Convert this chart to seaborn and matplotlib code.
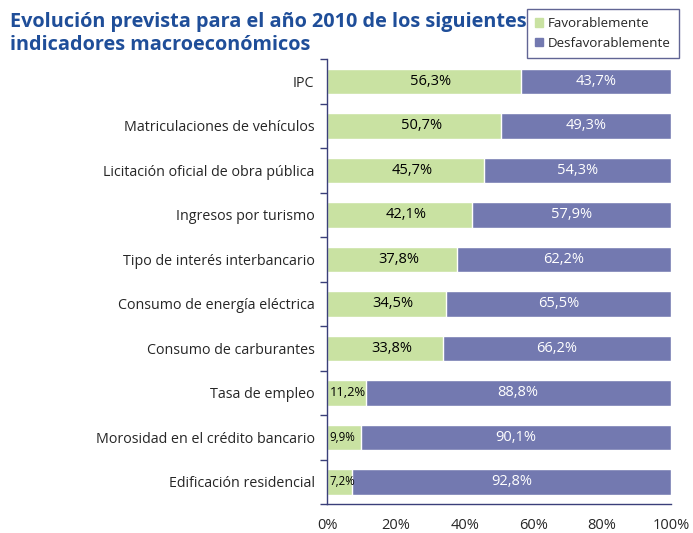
import numpy as np
import pandas as pd
import seaborn as sns
from matplotlib import pyplot as plt
from matplotlib.patches import Patch

# data
indicadores = ["IPC", "Matriculaciones de vehículos", "Licitación oficial de obra pública",
               "Ingresos por turismo", "Tipo de interés interbancario",
               "Consumo de energía eléctrica", "Consumo de carburantes", "Tasa de empleo",
               "Morosidad en el crédito bancario", "Edificación residencial"]
favorable = [56.3, 50.7, 45.7, 42.1, 37.8, 34.5, 33.8, 11.2, 9.9, 7.2]
desfavorable = [43.7, 49.3, 54.3, 57.9, 62.2, 65.5, 66.2, 88.8, 90.1, 92.8]
x_ticks = [0, 20, 40, 60, 80, 100]

verde = "#c9e2a2"
morado = "#7379b0"
azul = "#1f4e99"
eje = "#3a3f7a"

df = pd.DataFrame({"indicador": indicadores, "fav": favorable, "desf": desfavorable})
df["total"] = df["fav"] + df["desf"]

sns.set_style("white")
plt.rcParams['font.family'] = ['Open Sans', 'DejaVu Sans']

fig = plt.figure(figsize=(6.93, 5.33), dpi=100)
ax = fig.add_axes([0.472, 0.054, 0.496, 0.835])

# stacked bars: total first, then favourable on top
sns.barplot(data=df, x="total", y="indicador", color=morado, orient="h",
            width=0.58, saturation=1, ax=ax)
sns.barplot(data=df, x="fav", y="indicador", color=verde, orient="h",
            width=0.58, saturation=1, ax=ax)

# value labels
for i, (f, d) in enumerate(zip(favorable, desfavorable)):
    lab_f = f"{f:.1f}%".replace(".", ",")
    lab_d = f"{d:.1f}%".replace(".", ",")
    if f > 20:
        ax.text(f / 2 + 2, i, lab_f, ha="center", va="center", fontsize=10.5, color="black")
    else:
        ax.text(0.8, i, lab_f, ha="left", va="center", fontsize=9.3 if f > 10 else 8.3,
                color="black")
    ax.text(f + d / 2, i, lab_d, ha="center", va="center", fontsize=10.5, color="white")

ax.set_xlim(0, 100)
ax.set_ylim(9.5, -0.5)
ax.set_xticks(x_ticks)
ax.set_xticklabels([f"{t}%" for t in x_ticks], fontsize=10.5)
ax.set_xlabel("")
ax.set_ylabel("")
ax.tick_params(axis="y", length=0, labelsize=10.3, pad=9)
ax.tick_params(axis="x", length=4, width=1, color=eje, direction="out", pad=6)

# y ticks between categories
ax.set_yticks(np.arange(-0.5, 10, 1), minor=True)
ax.tick_params(axis="y", which="minor", length=5, width=1, color=eje, left=True)

for s in ["top", "right"]:
    ax.spines[s].set_visible(False)
for s in ["left", "bottom"]:
    ax.spines[s].set_color(eje)
    ax.spines[s].set_linewidth(1)

fig.text(0.014, 0.978, "Evolución prevista para el año 2010 de los siguientes\nindicadores macroeconómicos",
         ha="left", va="top", fontsize=14.3, fontweight="bold", color=azul, linespacing=1.2)

handles = [Patch(color=verde, label="Favorablemente"), Patch(color=morado, label="Desfavorablemente")]
leg = fig.legend(handles=handles, loc="upper left", bbox_to_anchor=(0.76, 0.983),
                 fontsize=9.6, frameon=True, fancybox=False, handlelength=0.6, handleheight=0.6,
                 handletextpad=0.4, borderpad=0.6, labelspacing=0.5, borderaxespad=0)
leg.get_frame().set_edgecolor(eje)
leg.get_frame().set_linewidth(1)

fig.savefig("out.png", dpi=100)
